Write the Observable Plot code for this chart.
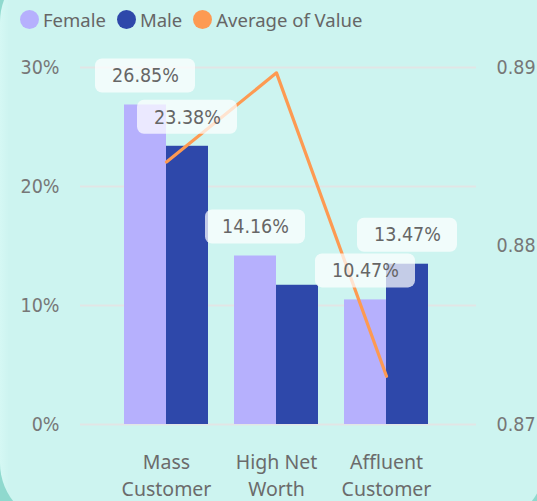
<!DOCTYPE html>
<html>
<head>
<meta charset="utf-8">
<script src="https://cdn.jsdelivr.net/npm/d3@7"></script>
<script src="https://cdn.jsdelivr.net/npm/@observablehq/plot@0.6"></script>
<style>
  html, body { margin: 0; padding: 0; width: 537px; height: 501px; overflow: hidden; background: #8fd9ce; }
  #card { position: absolute; left: 0; top: -40px; width: 545px; height: 565px; border-radius: 62px;
          background: linear-gradient(to right, #d5f8f4 0px, #cdf4f0 9px, #cdf4f0 100%); }
  #wrap { position: absolute; left: 0; top: 0; width: 537px; height: 501px; }
  #legend { height: 38px; display: flex; align-items: center; padding-left: 20px; box-sizing: border-box;
            font-family: "Noto Sans", "Open Sans", sans-serif; font-size: 18.5px; color: #666; }
  .item { display: flex; align-items: center; margin-right: 11px; }
  .sw { width: 19px; height: 19px; border-radius: 50%; margin-right: 4px; }
  svg { display: block; }
</style>
</head>
<body>
<div id="card"></div>
<div id="wrap">
  <div id="legend"></div>
  <div id="chart"></div>
</div>
<script>
const categories = ["Mass Customer", "High Net Worth", "Affluent Customer"];
const categoryLines = ["Mass\nCustomer", "High Net\nWorth", "Affluent\nCustomer"];
const femaleValues = [0.2685, 0.1416, 0.1047];
const maleValues = [0.2338, 0.1170, 0.1347];
const avgValues = [0.8847, 0.8897, 0.8727];
const femaleLabelShown = [true, true, true];
const maleLabelShown = [true, false, true];
const leftTicks = [0, 0.1, 0.2, 0.3];
const rightTicks = [0.87, 0.88, 0.89];
const seriesNames = ["Female", "Male", "Average of Value"];
const seriesColors = ["#b6b0fd", "#2e48aa", "#fd9a52"];

// legend
const legend = document.getElementById("legend");
seriesNames.forEach((n, i) => {
  const it = document.createElement("div");
  it.className = "item";
  it.innerHTML = `<div class="sw" style="background:${seriesColors[i]}"></div><span>${n}</span>`;
  legend.appendChild(it);
});

const rMin = rightTicks[0], rMax = rightTicks[rightTicks.length - 1];
const lMax = leftTicks[leftTicks.length - 1];
const toLeft = v => (v - rMin) / (rMax - rMin) * lMax;
const fromLeft = y => rMin + y / lMax * (rMax - rMin);

const female = categories.map((c, i) => ({cat: c, value: femaleValues[i], show: femaleLabelShown[i]}));
const male = categories.map((c, i) => ({cat: c, value: maleValues[i], show: maleLabelShown[i]}));
const avg = categories.map((c, i) => ({cat: c, value: toLeft(avgValues[i])}));

const labelFont = "'DejaVu Sans Condensed', Roboto, sans-serif";
const half = 42;

const chart = Plot.plot({
  width: 537,
  height: 463,
  marginTop: 29,
  marginBottom: 77,
  marginLeft: 80,
  marginRight: 61,
  style: {background: "transparent", overflow: "visible"},
  x: {domain: categories, paddingInner: 0.2364, paddingOuter: 0.418, align: 0.478, axis: null},
  y: {domain: [0, lMax], axis: null},
  marks: [
    Plot.ruleY(leftTicks, {stroke: "#e2e5e5", strokeWidth: 2}),
    Plot.barY(female, {x: "cat", y: "value", fill: seriesColors[0], insetLeft: 0, insetRight: half}),
    Plot.barY(male, {x: "cat", y: "value", fill: seriesColors[1], insetLeft: half, insetRight: 0}),
    Plot.line(avg, {x: "cat", y: "value", stroke: seriesColors[2], strokeWidth: 3.2}),
    Plot.barY(female.filter(d => d.show), {x: "cat", y1: "value", y2: "value", fill: "white", fillOpacity: 0.72,
      insetTop: -46, insetBottom: 12, insetLeft: -29, insetRight: 13, rx: 7}),
    Plot.barY(male.filter(d => d.show), {x: "cat", y1: "value", y2: "value", fill: "white", fillOpacity: 0.72,
      insetTop: -46, insetBottom: 12, insetLeft: 13, insetRight: -29, rx: 7}),
    Plot.text(female.filter(d => d.show), {x: "cat", y: "value", text: d => (d.value * 100).toFixed(2) + "%",
      dx: -21, dy: -29, fill: "#666", fontSize: 19.5, fontFamily: labelFont}),
    Plot.text(male.filter(d => d.show), {x: "cat", y: "value", text: d => (d.value * 100).toFixed(2) + "%",
      dx: 21, dy: -29, fill: "#666", fontSize: 19.5, fontFamily: labelFont}),
    Plot.axisY({anchor: "left", ticks: leftTicks, tickSize: 0, tickPadding: 21, label: null,
      tickFormat: d => Math.round(d * 100) + "%", fontSize: 19.5, fill: "#777", fontFamily: labelFont}),
    Plot.axisY({anchor: "right", ticks: rightTicks.map(toLeft), tickSize: 0, tickPadding: 20, label: null,
      tickFormat: d => fromLeft(d).toFixed(2), fontSize: 19.5, fill: "#777", fontFamily: labelFont}),
    Plot.text(categories, {x: d => d, y: 0, text: (d, i) => categoryLines[i], dy: 49, lineHeight: 1.38,
      fill: "#6b6b6b", fontSize: 19.5, fontFamily: "'Noto Sans', 'Open Sans', sans-serif"})
  ]
});
document.getElementById("chart").appendChild(chart);
</script>
</body>
</html>
